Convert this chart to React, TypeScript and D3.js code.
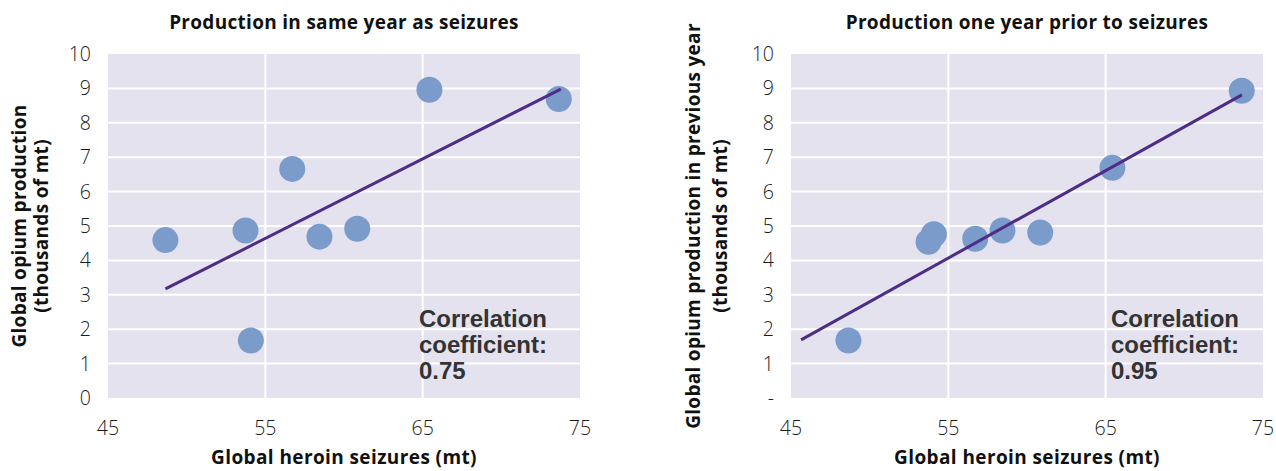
import React from "react";
import * as d3 from "d3";

const seizures = [48.65, 53.74, 54.08, 56.71, 58.44, 60.84, 65.43, 73.65];
const prodSameYear = [4.59, 4.87, 1.67, 6.66, 4.69, 4.92, 8.96, 8.69];
const prodPrevYear = [1.67, 4.54, 4.76, 4.63, 4.87, 4.81, 6.69, 8.93];

const trendSameX = [48.65, 73.78];
const trendSameY = [3.17, 8.98];
const trendPrevX = [45.64, 73.66];
const trendPrevY = [1.69, 8.81];

const xTicks = [45, 55, 65, 75];
const yTicks = [0, 1, 2, 3, 4, 5, 6, 7, 8, 9, 10];
const yTickLabelsLeft = ["0", "1", "2", "3", "4", "5", "6", "7", "8", "9", "10"];
const yTickLabelsRight = ["-", "1", "2", "3", "4", "5", "6", "7", "8", "9", "10"];

const W = 1276;
const H = 471;
const TOP = 54;
const BOTTOM = 398;

const LIGHT = "'Open Sans', 'Noto Sans', sans-serif";
const BOLD = "'Open Sans', 'Noto Sans', sans-serif";

type PanelProps = {
  left: number;
  right: number;
  title: string;
  ys: number[];
  trendX: number[];
  trendY: number[];
  yLabels: string[];
  yTitle: string[];
  yTitleX: number[];
  corr: string;
  corrX: number;
  labelGap: number;
};

function Panel(p: PanelProps) {
  const x = d3.scaleLinear().domain([45, 75]).range([p.left, p.right]);
  const y = d3.scaleLinear().domain([0, 10]).range([BOTTOM, TOP]);
  const line = d3
    .line<number>()
    .x((_, i) => x(p.trendX[i]))
    .y((d) => y(d));
  const cx = (p.left + p.right) / 2;
  const cy = (TOP + BOTTOM) / 2;
  return (
    <g>
      <text x={cx} y={29} textAnchor="middle" fontFamily={BOLD} fontWeight={700} fontSize={19} letterSpacing={0.3} fill="#111">
        {p.title}
      </text>
      <rect x={x(45)} y={y(10)} width={x(75) - x(45)} height={y(0) - y(10)} fill="#e4e2ee" />
      {yTicks.slice(1, -1).map((t) => (
        <line key={"h" + t} x1={x(45)} x2={x(75)} y1={y(t)} y2={y(t)} stroke="#fff" strokeWidth={2} />
      ))}
      {xTicks.slice(1, -1).map((t) => (
        <line key={"v" + t} x1={x(t)} x2={x(t)} y1={y(0)} y2={y(10)} stroke="#fff" strokeWidth={2} />
      ))}
      {yTicks.map((t, i) => (
        <text
          key={"yl" + t}
          x={p.left - p.labelGap}
          y={y(t)}
          dy="0.36em"
          textAnchor="end"
          fontFamily={LIGHT}
          fontWeight={300}
          fontSize={19.5}
          fill="#1a1a1a"
        >
          {p.yLabels[i]}
        </text>
      ))}
      {xTicks.map((t) => (
        <text key={"xl" + t} x={x(t)} y={435} textAnchor="middle" fontFamily={LIGHT} fontWeight={300} fontSize={19.5} fill="#1a1a1a">
          {t}
        </text>
      ))}
      <text x={cx} y={464} textAnchor="middle" fontFamily={BOLD} fontWeight={700} fontSize={19} letterSpacing={0.4} fill="#111">
        Global heroin seizures (mt)
      </text>
      {p.yTitle.map((s, i) => (
        <text
          key={"yt" + i}
          transform={`translate(${p.yTitleX[i]},${cy}) rotate(-90)`}
          textAnchor="middle"
          fontFamily={BOLD}
          fontWeight={700}
          fontSize={19}
          letterSpacing={0.3}
          fill="#111"
        >
          {s}
        </text>
      ))}
      {seizures.map((s, i) => (
        <circle key={"c" + i} cx={x(s)} cy={y(p.ys[i])} r={13} fill="#7b9bcb" />
      ))}
      <path d={line(p.trendY) || ""} fill="none" stroke="#4e2d86" strokeWidth={3} />
      {["Correlation", "coefficient:", p.corr].map((s, i) => (
        <text
          key={"cr" + i}
          x={p.corrX}
          y={327 + i * 26}
          fontFamily="'Liberation Sans', Arial, sans-serif"
          fontWeight={700}
          fontSize={24}
          fill="#333"
        >
          {s}
        </text>
      ))}
    </g>
  );
}

export default function App() {
  return (
    <svg width={W} height={H} style={{ position: "absolute", left: 0, top: 0, background: "#fff" }}>
      <Panel
        left={108}
        right={580}
        title="Production in same year as seizures"
        ys={prodSameYear}
        trendX={trendSameX}
        trendY={trendSameY}
        yLabels={yTickLabelsLeft}
        yTitle={["Global opium production", "(thousands of mt)"]}
        yTitleX={[26, 48]}
        corr="0.75"
        corrX={419}
        labelGap={17}
      />
      <Panel
        left={791}
        right={1263}
        title="Production one year prior to seizures"
        ys={prodPrevYear}
        trendX={trendPrevX}
        trendY={trendPrevY}
        yLabels={yTickLabelsRight}
        yTitle={["Global opium production in previous year", "(thousands of mt)"]}
        yTitleX={[700, 727]}
        corr="0.95"
        corrX={1111}
        labelGap={17}
      />
    </svg>
  );
}
